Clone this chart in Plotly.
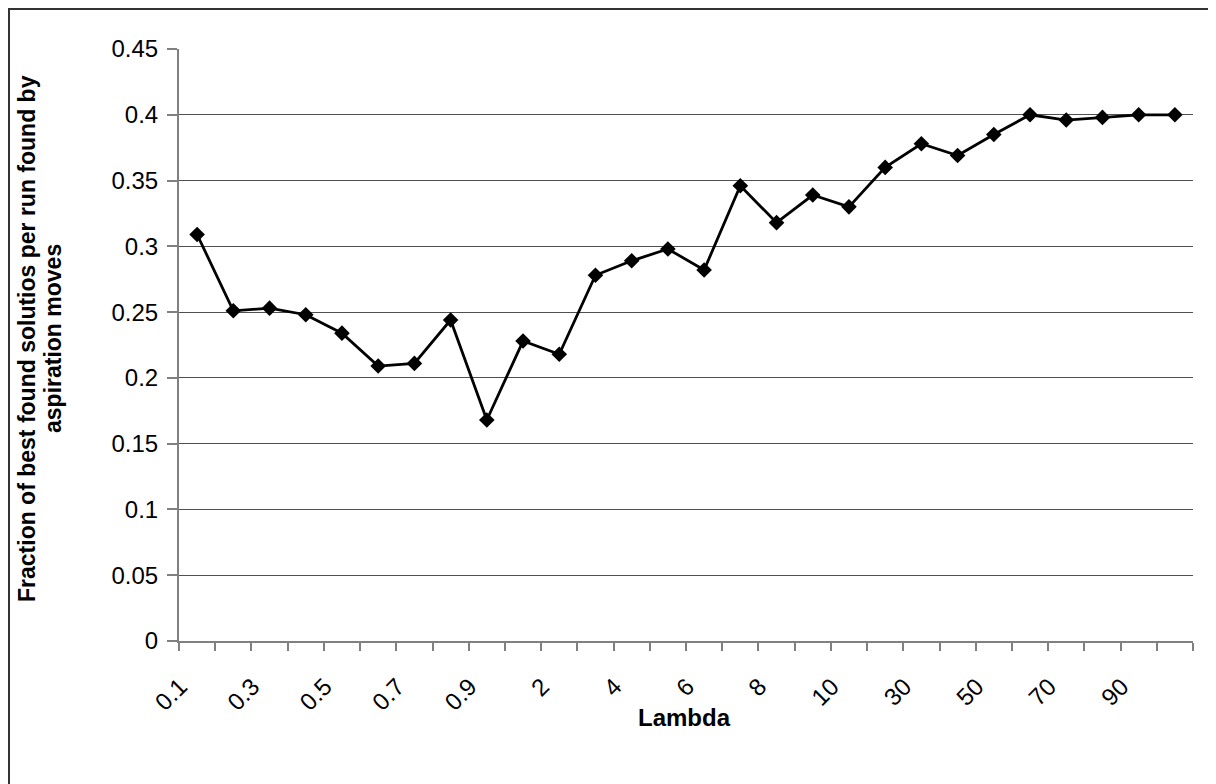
import plotly.graph_objects as go

categories = ["0.1", "0.2", "0.3", "0.4", "0.5", "0.6", "0.7", "0.8", "0.9", "1",
              "2", "3", "4", "5", "6", "7", "8", "9", "10",
              "20", "30", "40", "50", "60", "70", "80", "90", "100"]
values = [0.309, 0.251, 0.253, 0.248, 0.234, 0.209, 0.211, 0.244, 0.168, 0.228,
          0.218, 0.278, 0.289, 0.298, 0.282, 0.346, 0.318, 0.339, 0.330,
          0.360, 0.378, 0.369, 0.385, 0.400, 0.396, 0.398, 0.400, 0.400]
x_labelled = ["0.1", "0.3", "0.5", "0.7", "0.9", "2", "4", "6", "8", "10", "30", "50", "70", "90"]
y_ticks = [0, 0.05, 0.1, 0.15, 0.2, 0.25, 0.3, 0.35, 0.4, 0.45]
y_tick_labels = ["0", "0.05", "0.1", "0.15", "0.2", "0.25", "0.3", "0.35", "0.4", "0.45"]

idx = list(range(len(categories)))
lab_idx = [categories.index(c) for c in x_labelled]

W, H = 1216, 784
OFF = 8  # page body margin
L, R, T, B = 179 - OFF, 1193 - OFF, 49 - OFF, 641 - OFF
pw, ph = R - L, B - T

def px(sx):
    return (sx - OFF - L) / pw

def py(sy):
    return (B - (sy - OFF)) / ph

FONT = "Liberation Sans, Arial, sans-serif"

fig = go.Figure()
fig.add_trace(go.Scatter(
    x=idx, y=values, mode="lines+markers",
    line=dict(color="black", width=2.8),
    marker=dict(symbol="diamond", size=12, color="black"),
    showlegend=False,
))

fig.update_layout(
    width=W, height=H, autosize=False,
    margin=dict(l=L, r=W - R, t=T, b=H - B, pad=0),
    paper_bgcolor="white", plot_bgcolor="white",
    font=dict(family=FONT, size=24, color="black"),
    xaxis=dict(
        range=[-0.5, len(categories) - 0.5],
        tickmode="array", tickvals=lab_idx, ticktext=x_labelled,
        tickangle=-45, ticks="", showgrid=False, zeroline=False,
        showline=True, linecolor="#808080", linewidth=2,
        tickfont=dict(family=FONT, size=24, color="black"),
        ticklabelshift=-17, ticklabelstandoff=20,
        minor=dict(tickmode="array", tickvals=[i - 0.5 for i in range(len(categories) + 1)],
                   ticks="outside", ticklen=8, tickwidth=1.5, tickcolor="#808080",
                   showgrid=False),
    ),
    yaxis=dict(
        range=[0, 0.45], tickmode="array", tickvals=y_ticks, ticktext=y_tick_labels,
        ticks="outside", ticklen=10, tickwidth=1.5, tickcolor="#808080",
        showgrid=True, gridcolor="#505050", gridwidth=1, zeroline=False,
        showline=True, linecolor="#808080", linewidth=2,
        tickfont=dict(family=FONT, size=24, color="black"),
        ticklabelstandoff=4,
    ),
)

title_lines = ["Fraction of best found solutios per run found by", "aspiration moves"]
for line_text, sx in zip(title_lines, [27, 53]):
    fig.add_annotation(
        text="<b>" + line_text + "</b>",
        xref="paper", yref="paper", x=px(sx), y=py(339),
        xanchor="center", yanchor="middle", textangle=-90, showarrow=False,
        font=dict(family=FONT, size=23, color="black"),
    )
fig.add_annotation(
    text="<b>Lambda</b>",
    xref="paper", yref="paper", x=px(684), y=py(717),
    xanchor="center", yanchor="middle", showarrow=False,
    font=dict(family=FONT, size=24, color="black"),
)

fig.add_shape(type="rect", xref="paper", yref="paper",
              x0=px(9), x1=px(1213), y0=py(820), y1=py(9),
              line=dict(color="#333333", width=2), fillcolor="rgba(0,0,0,0)", layer="above")

fig.write_html("out.html")
